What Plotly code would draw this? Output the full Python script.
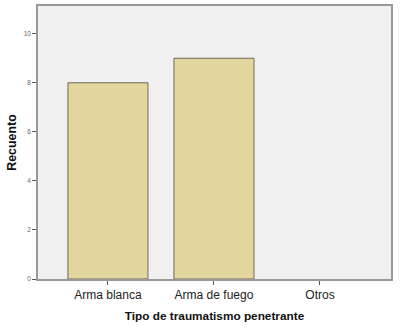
import plotly.graph_objects as go

categories = ["Arma blanca", "Arma de fuego", "Otros"]
counts = [8, 9, 0]
y_ticks = [0, 2, 4, 6, 8, 10]

fig = go.Figure()
fig.add_trace(go.Bar(
    x=list(range(len(categories))), y=counts,
    width=0.755,
    marker=dict(color="#e2d69e",
                line=dict(color="#6e6a58", width=[1 if v > 0 else 0 for v in counts])),
))

sans = "Liberation Sans, Arial, sans-serif"
fig.update_layout(
    width=400, height=328,
    margin=dict(l=38, r=9, t=4, b=49),
    paper_bgcolor="white",
    plot_bgcolor="#f1f0f1",
    showlegend=False,
    font=dict(family=sans, color="#222"),
    xaxis=dict(
        range=[-0.66, 2.67],
        tickmode="array", tickvals=list(range(len(categories))), ticktext=categories,
        ticks="outside", ticklen=4, tickcolor="#555",
        tickfont=dict(size=12, color="#222"),
        showgrid=False, zeroline=False,
        showline=True, linecolor="#999", linewidth=1.5, mirror=True,
        title=dict(text="<b>Tipo de traumatismo penetrante</b>",
                   font=dict(size=11.8, color="#111"), standoff=11),
    ),
    yaxis=dict(
        range=[0, 11.13],
        tickmode="array", tickvals=y_ticks,
        ticks="outside", ticklen=4, tickcolor="#555",
        tickfont=dict(size=6.5, color="#666"),
        showgrid=False, zeroline=False,
        showline=True, linecolor="#999", linewidth=1.5, mirror=True,
        title=dict(text="<b>Recuento</b>",
                   font=dict(size=12.4, color="#111"), standoff=4),
    ),
)

fig.write_html("out.html")
